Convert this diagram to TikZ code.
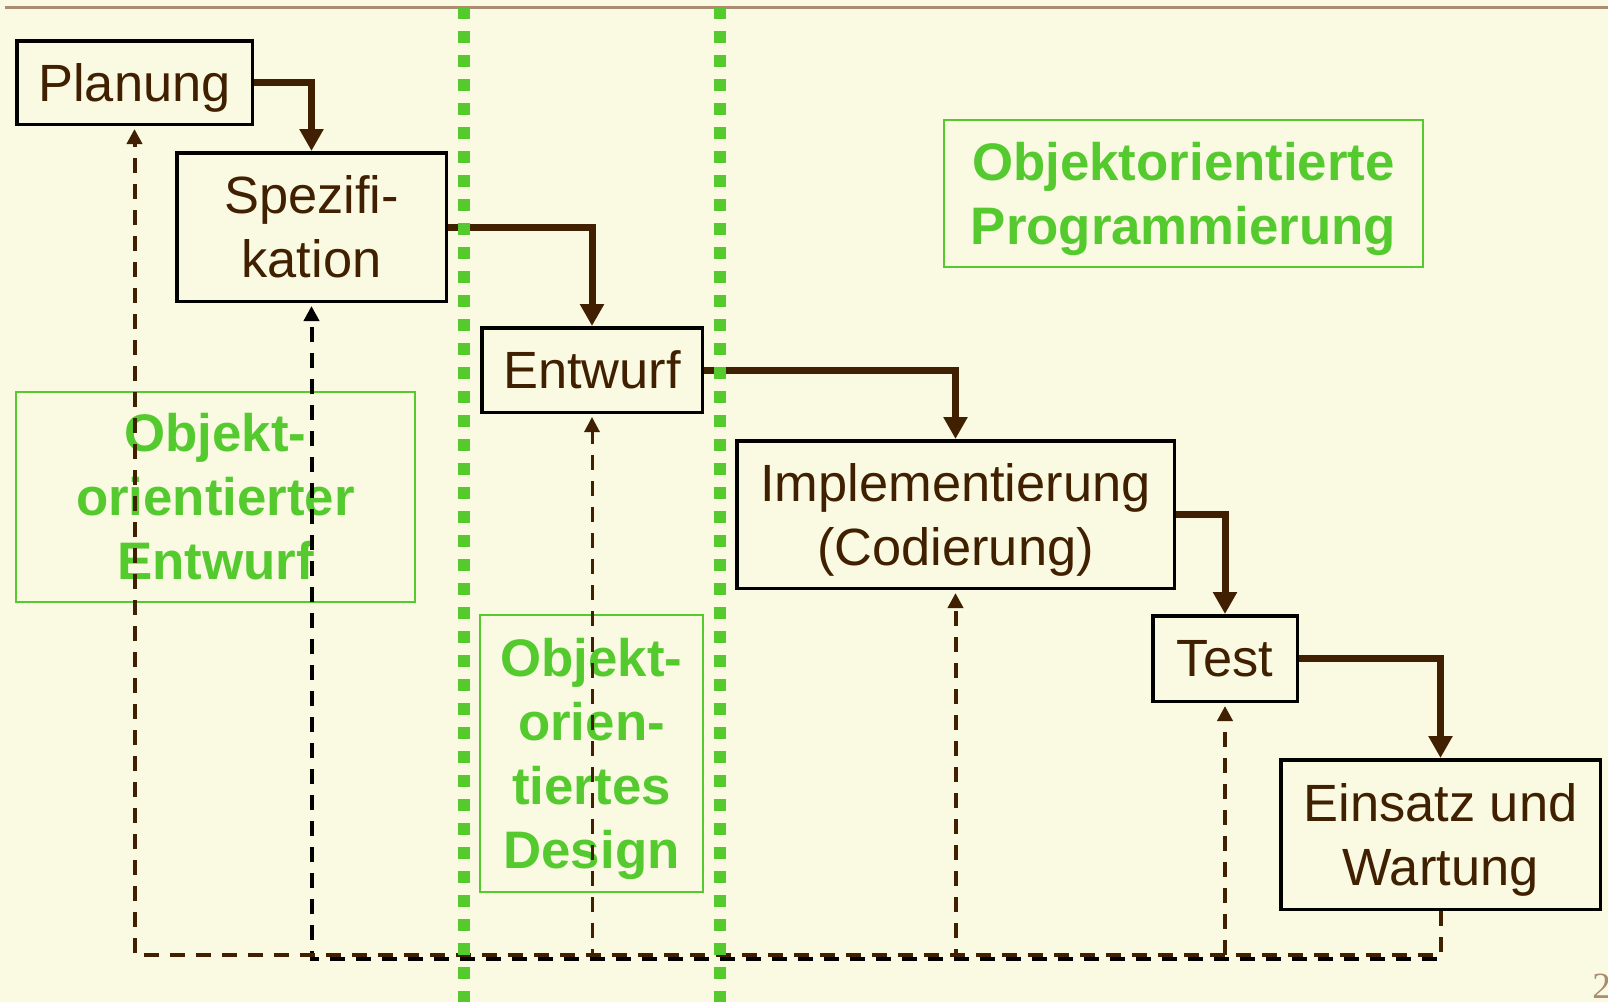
\documentclass[tikz,border=0pt]{standalone}
\usepackage{fontspec}
\setmainfont{Liberation Sans}
\newfontfamily\pgnumfont{Liberation Serif}
\usetikzlibrary{arrows.meta}
\definecolor{bg}{RGB}{250,250,227}
\definecolor{txtbrown}{RGB}{64,32,0}
\definecolor{oogreen}{RGB}{84,202,46}
\definecolor{rulecol}{RGB}{170,140,112}
\begin{document}
\begin{tikzpicture}[x=0.5pt,y=-0.5pt,
  box/.style={draw=black, line width=1.75pt, text=txtbrown, align=center, inner sep=0pt,
    font=\fontsize{26.2}{32}\selectfont},
  gbox/.style={draw=oogreen, line width=1pt, text=oogreen, align=center, inner sep=0pt,
    font=\fontsize{26.4}{32}\selectfont\bfseries},
  flow/.style={draw=txtbrown, line width=3.5pt, line join=miter,
    -{Triangle[width=11.5pt,length=11pt]}},
  back/.style={draw=txtbrown, line width=2pt, dash pattern=on 7.5pt off 5.5pt,
    shorten >=1.5pt, -{Triangle[width=7.5pt,length=7.5pt]}},
  dotline/.style={draw=oogreen, line width=6pt, dash pattern=on 6pt off 6pt}
]
\useasboundingbox (0,0) rectangle (1608,1002);
\clip (0,0) rectangle (1608,1002);
\fill[bg] (0,0) rectangle (1608,1002);
\draw[rulecol, line width=1.5pt] (5,7) -- (1608,7);

% green boxes
\node[gbox, minimum width=199.5pt, minimum height=105pt] (g1) at (215.5,497) {Objekt-\\orientierter\\Entwurf};
\node[gbox, minimum width=111.5pt, minimum height=138.5pt] (g2) at (591.5,753.5) {Objekt-\\orien-\\tiertes\\\smash{Design}};
\node[gbox, minimum width=239.5pt, minimum height=73.5pt] (oop) at (1183.5,193.5) {Objektorientierte\\\smash{Programmierung}};

% phase boxes
\node[box, minimum width=117.75pt, minimum height=41.75pt] (plan) at (134.5,82.5) {Planun\smash{g}};
\node[box, minimum width=134.75pt, minimum height=74.25pt] (spez) at (311.5,227) {Spezifi-\\kation};
\node[box, minimum width=110.25pt, minimum height=42.25pt] (entw) at (592,370) {Entwurf};
\node[box, minimum width=218.75pt, minimum height=73.75pt] (impl) at (955.5,514.5) {Implementierung\\\smash{(Codierung)}};
\node[box, minimum width=72.25pt, minimum height=42.75pt] (test) at (1225,658.5) {Test};
\node[box, minimum width=159.75pt, minimum height=74.75pt] (ein) at (1440.5,834.5) {Einsatz und\\\smash{Wartung}};

% forward flow
\draw[flow] (plan.east) -| (spez.north);
\draw[flow] (spez.east) -| (entw.north);
\draw[flow] (entw.east) -| (impl.north);
\draw[flow] (impl.east) -| (test.north);
\draw[flow] (test.east) -| (ein.north);

% feedback connectors
\coordinate (bot) at (0,955);
\coordinate (botk) at (0,959);
\draw[back, draw=black] (ein.south) |- (spez.south |- botk) -- (spez.south);
\draw[back] (ein.south) |- (plan.south |- bot) -- (plan.south);
\draw[back, line width=1.5pt] (ein.south) |- (entw.south |- bot) -- (entw.south);
\draw[back] (ein.south) |- (impl.south |- bot) -- (impl.south);
\draw[back] (ein.south) |- (test.south |- bot) -- (test.south);

% green dotted separators
\draw[dotline] (464,7) -- (464,1002);
\draw[dotline] (720,7) -- (720,1002);

% page number
\node[anchor=base west, inner sep=0pt, text=rulecol, font=\pgnumfont\fontsize{18.5}{20}\selectfont] (pg) at (1592,998) {2};
\end{tikzpicture}
\end{document}
